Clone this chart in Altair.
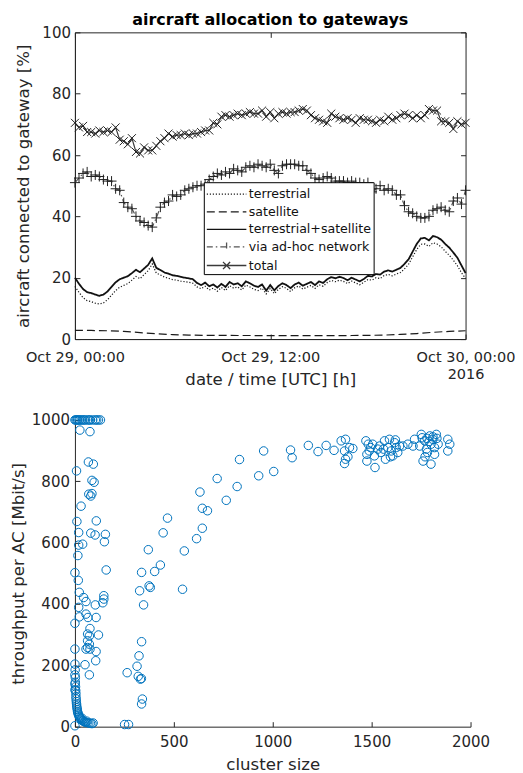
import altair as alt
import pandas as pd

FONT = "DejaVu Sans"
INK = "#262626"

# ---------------- top panel data (values in %, 24 h, Oct 29 2016 UTC) ----------------
series_names = ["terrestrial", "satellite", "terrestrial+satellite", "via ad-hoc network", "total"]

terrestrial = [
    17.2, 15.2, 13.5, 12.5, 12.2, 11.7, 11.4, 11.8, 12.8, 14.3, 15.8, 16.9,
    17.5, 18.1, 19.2, 20.4, 19.7, 21.0, 22.3, 24.5, 21.5, 20.9, 20.2, 19.8,
    19.4, 19.2, 18.9, 18.7, 18.5, 18.2, 17.0, 16.4, 17.2, 16.0, 16.6, 15.6,
    16.8, 15.8, 17.4, 16.6, 17.0, 16.0, 17.6, 17.0, 16.2, 15.8, 16.6, 14.7,
    16.5, 14.8, 16.2, 17.1, 16.5, 15.5, 16.7, 17.3, 16.3, 16.9, 17.5, 16.5,
    17.7, 17.2, 18.4, 19.1, 18.7, 19.2, 18.8, 18.1, 18.9, 18.3, 17.7, 18.5,
    19.4, 19.2, 20.0, 19.7, 20.7, 21.1, 20.6, 21.2, 21.7, 22.9, 24.4, 26.8,
    29.2, 30.9, 31.0, 30.2, 31.4, 31.0, 30.1, 28.6, 27.3, 25.7, 23.9, 21.6,
    19.8,
]
satellite = [
    2.8, 2.8, 2.7, 2.5, 2.1, 1.7, 1.45, 1.3, 1.2, 1.2, 1.15, 1.15, 1.1,
    1.1, 1.1, 1.1, 1.1, 1.15, 1.2, 1.3, 1.5, 1.8, 2.2, 2.5, 2.7,
]
terr_sat = [
    20.0, 18.0, 16.3, 15.3, 15.0, 14.5, 14.1, 14.5, 15.5, 17.0, 18.5, 19.5,
    20.0, 20.5, 21.5, 22.6, 21.8, 23.0, 24.2, 26.3, 23.2, 22.5, 21.7, 21.3,
    20.8, 20.6, 20.3, 20.0, 19.8, 19.5, 18.3, 17.6, 18.4, 17.2, 17.8, 16.8,
    18.0, 17.0, 18.6, 17.8, 18.2, 17.2, 18.8, 18.2, 17.4, 17.0, 17.8, 15.8,
    17.6, 15.9, 17.3, 18.2, 17.6, 16.6, 17.8, 18.4, 17.4, 18.0, 18.6, 17.6,
    18.8, 18.3, 19.5, 20.2, 19.8, 20.3, 19.9, 19.2, 20.0, 19.4, 18.8, 19.6,
    20.6, 20.4, 21.2, 21.0, 22.0, 22.4, 22.0, 22.6, 23.2, 24.5, 26.0, 28.5,
    31.0, 32.8, 33.0, 32.2, 33.6, 33.2, 32.4, 31.0, 29.8, 28.2, 26.5, 24.0,
    21.5,
]
adhoc = [
    51.0, 52.5, 54.0, 54.5, 53.0, 53.5, 53.0, 52.0, 51.5, 51.5, 49.0, 48.5,
    44.5, 43.0, 42.5, 40.0, 38.5, 38.0, 37.0, 36.5, 39.5, 43.0, 44.5, 45.0,
    47.0, 46.5, 47.0, 48.5, 49.0, 49.5, 50.0, 50.0, 50.5, 52.0, 53.0, 54.0,
    53.5, 54.5, 54.0, 55.5, 55.0, 54.5, 56.0, 56.5, 56.0, 57.0, 56.5, 56.0,
    57.0, 55.0, 54.0, 56.5, 57.0, 57.0, 57.0, 56.5, 56.5, 55.0, 54.0, 52.5,
    52.0, 52.5, 53.0, 52.5, 51.5, 51.5, 51.5, 51.0, 51.5, 51.0, 51.0, 50.5,
    51.0, 48.0, 49.0, 50.0, 48.5, 49.0, 48.5, 47.0, 47.0, 43.5, 41.5, 41.0,
    40.0, 39.5, 39.5, 40.0, 42.0, 42.5, 43.0, 42.0, 41.5, 45.0, 46.0, 44.0,
    48.5,
]
total = [
    70.5, 69.0, 69.5, 67.5, 67.5, 67.0, 68.0, 67.5, 68.0, 67.5, 69.0, 65.0,
    64.5, 63.5, 65.5, 61.0, 60.5, 62.5, 61.5, 61.5, 63.0, 64.5, 65.5, 67.0,
    66.0, 66.5, 66.5, 67.0, 66.5, 67.0, 67.0, 67.5, 68.0, 68.0, 70.5, 70.0,
    72.5, 73.0, 72.5, 73.0, 73.5, 73.0, 73.5, 74.0, 73.5, 73.5, 74.5, 72.5,
    74.0, 72.0, 73.5, 74.0, 73.5, 74.0, 74.0, 74.5, 75.0, 74.5, 73.0, 72.0,
    71.5, 71.0, 70.5, 73.5, 72.5, 72.0, 71.5, 72.0, 71.5, 70.5, 72.0, 71.5,
    71.5, 71.0, 70.5, 71.5, 71.0, 72.5, 71.5, 72.0, 73.0, 73.5, 73.0, 72.0,
    73.0, 72.0, 73.0, 75.0, 74.5, 74.5, 71.0, 71.0, 70.5, 68.5, 71.0, 70.0,
    70.5,
]

tick_hours = [0, 12, 24]
tick_labels = ["Oct 29, 00:00", "Oct 29, 12:00", "Oct 30, 00:00"]
year_label = "2016"
y_ticks_top = [0, 20, 40, 60, 80, 100]

# ---------------- bottom panel data ----------------
cluster = [
    0, 5, 10, 14, 20, 25, 32, 39, 46, 53, 64, 72, 78, 90, 103, 110, 119, 129,
    25, 76, 8, 68, 93, 86, 97, 70, 80, 86, 31, 10, 108, 19, 80, 102, 154, 149,
    19, 39, 15, 0, 158, 17, 22, 44, 56, 146, 146, 141, 19, 103, 56, 66, 107, 22,
    0, 76, 64, 73, 119, 64, 73, 64, 76, 56, 107, 105, 0, 51, 0, 73, 0, 0,
    1, 2, 2, 3, 4, 5, 5, 6, 7, 8, 9, 10, 12, 13, 15, 17, 19, 22, 25, 28, 32,
    36, 40, 45, 50, 55, 62, 70, 78, 86, 92, 60, 35, 0, 0,
    264, 251, 271, 314, 320, 331, 336, 324, 337, 341, 337, 327, 337, 347, 375,
    381, 371, 403, 432, 446, 468, 544, 553, 615, 644, 632, 644, 670, 719, 765,
    820, 832, 929, 954, 1005, 1090, 1098,
    1180, 1229, 1270, 1310, 1346, 1368, 1363, 1368, 1363, 1388, 1405, 1471,
    1483, 1476, 1476, 1488, 1505, 1517, 1514, 1531, 1547, 1565, 1570, 1582,
    1590, 1599, 1607, 1616, 1624, 1632, 1641, 1658, 1683, 1709, 1717, 1743,
    1751, 1755, 1760, 1768, 1777, 1782, 1794, 1800, 1800, 1809, 1818, 1818,
    1827, 1836, 1885, 1885, 1895, 1540, 1595, 1620, 1560, 1780, 1790, 1810,
    1830, 1770, 1495, 1380,
]
throughput = [
    1000, 1000, 1000, 1000, 1000, 1000, 1000, 1000, 1000, 1000, 1000, 1000,
    1000, 1000, 1000, 1000, 1000, 1000,
    967, 962, 834, 863, 856, 803, 797, 758, 752, 760, 719, 669, 671, 633, 631,
    625, 627, 603, 592, 595, 558, 502, 511, 477, 438, 421, 408, 427, 416, 404,
    389, 397, 367, 356, 356, 358, 337, 320, 302, 296, 299, 280, 269, 258, 253,
    253, 245, 215, 253, 202, 204, 169, 169, 3,
    185, 160, 145, 130, 118, 108, 98, 90, 82, 75, 68, 62, 56, 50, 45, 41, 37,
    33, 30, 27, 24, 21, 19, 17, 15, 14, 13, 12, 11, 10, 12, 18, 28, 139, 120,
    176, 7, 7, 197, 164, 155, 157, 231, 277, 90, 74, 443, 503, 397, 459, 454,
    577, 506, 527, 632, 680, 448, 573, 613, 647, 765, 712, 704, 809, 738, 783,
    871, 818, 899, 832, 902, 877,
    917, 897, 917, 901, 932, 937, 899, 872, 858, 910, 907, 932, 921, 888, 866,
    899, 921, 845, 883, 905, 894, 932, 872, 910, 937, 899, 883, 926, 910, 894,
    915, 915, 921, 915, 937, 915, 953, 942, 866, 932, 905, 894, 948, 921, 856,
    937, 910, 888, 953, 921, 937, 899, 921, 915, 880, 935, 905, 940, 930, 945,
    940, 880, 910, 880,
]
x_ticks_bottom = [0, 500, 1000, 1500, 2000]
y_ticks_bottom = [0, 200, 400, 600, 800, 1000]

# ---------------- tables ----------------
rows = []
for name, vals in zip(series_names, [terrestrial, satellite, terr_sat, adhoc, total]):
    n = len(vals)
    for i, v in enumerate(vals):
        rows.append({"hour": 24.0 * i / (n - 1), "value": v, "series": name})
ts = pd.DataFrame(rows)
sc = pd.DataFrame({"cluster": cluster, "tp": throughput})

# ---------------- styles ----------------
color_range = ["#1a1a1a", "#1a1a1a", "#111111", "#555555", "#3a3a3a"]
dash_range = [[1.2, 1.8], [8, 4], [1, 0], [6, 3, 1.5, 3], [1, 0]]
legend_shapes = [
    "M-1,0H3.4",
    "M-1,0H3.4",
    "M-1,0H3.4",
    "M-1,0H3.4M1.2,-0.5V0.5",
    "M-1,0H3.4M0.8,-0.4L1.6,0.4M0.8,0.4L1.6,-0.4",
]
PLUS = "M-1,0H1M0,-1V1"
CROSS = "M-1,-1L1,1M-1,1L1,-1"
TICK = 5
X0 = 76  # common left edge of both plot areas (px from page left)

xs = alt.Scale(domain=[0, 24], nice=False)
ys = alt.Scale(domain=[0, 100], nice=False)
color_scale = alt.Scale(type="ordinal", domain=series_names, range=color_range)
dash_scale = alt.Scale(type="ordinal", domain=series_names, range=dash_range)
shape_scale = alt.Scale(type="ordinal", domain=series_names, range=legend_shapes)

label_expr = (
    f"datum.value == {tick_hours[0]} ? '{tick_labels[0]}' : "
    f"datum.value == {tick_hours[1]} ? '{tick_labels[1]}' : "
    f"['{tick_labels[2]}', '{year_label}" + "\u00a0" * 13 + "']"
)


def tick_axis(orient, values):
    # ticks only, shifted inside the plot so they point inward
    return alt.Axis(orient=orient, values=values, labels=False, domain=False,
                    ticks=True, tickSize=TICK, offset=-TICK, grid=False, title=None,
                    minExtent=0, maxExtent=0)


bottom_axis = alt.Axis(
    values=tick_hours, labelExpr=label_expr, labelFlush=False, ticks=False,
    labelFontSize=14.5, labelBaseline="alphabetic", labelPadding=22,
    labelLineHeight=18, grid=False,
    title="date / time [UTC] [h]", titleY=45, titleBaseline="alphabetic",
)
left_axis = alt.Axis(
    values=y_ticks_top, ticks=False, labelPadding=4.5, grid=False,
    title="aircraft connected to gateway [%]", titleX=33 - X0,
)

leg = alt.Legend(
    title=None, orient="none", legendX=205 - X0, legendY=150, fillColor="white",
    strokeColor="black", padding=2, rowPadding=0.6, labelOffset=23,
    symbolSize=324, symbolStrokeWidth=1.3, labelFontSize=12.6, labelFont=FONT,
    labelColor="#111111",
)

lines = alt.Chart(ts).mark_line().encode(
    x=alt.X("hour:Q", scale=xs, axis=bottom_axis),
    y=alt.Y("value:Q", scale=ys, axis=left_axis),
    color=alt.Color("series:N", scale=color_scale),
    strokeDash=alt.StrokeDash("series:N", scale=dash_scale),
    strokeWidth=alt.condition(
        alt.datum.series == "terrestrial+satellite", alt.value(1.8), alt.value(1.2)
    ),
)

adhoc_pts = alt.Chart(ts).transform_filter(
    alt.datum.series == "via ad-hoc network"
).mark_point(shape=PLUS, size=100, filled=False, color="#222222", strokeWidth=1, opacity=1).encode(
    x=alt.X("hour:Q", scale=xs, axis=tick_axis("bottom", tick_hours)),
    y=alt.Y("value:Q", scale=ys, axis=tick_axis("left", y_ticks_top)),
)

total_pts = alt.Chart(ts).transform_filter(
    alt.datum.series == "total"
).mark_point(shape=CROSS, size=64, filled=False, color="#222222", strokeWidth=1, opacity=1).encode(
    x=alt.X("hour:Q", scale=xs, axis=tick_axis("top", tick_hours)),
    y=alt.Y("value:Q", scale=ys, axis=tick_axis("right", y_ticks_top)),
)

legend_layer = alt.Chart(ts).transform_filter("false").mark_point(
    filled=False, opacity=1, size=324, strokeWidth=1.3
).encode(
    x=alt.X("hour:Q", scale=xs, axis=None),
    y=alt.Y("value:Q", scale=ys, axis=None),
    color=alt.Color("series:N", scale=color_scale, legend=leg),
    shape=alt.Shape("series:N", scale=shape_scale, legend=leg),
    strokeDash=alt.StrokeDash("series:N", scale=dash_scale, legend=leg),
)

top = alt.layer(lines, adhoc_pts, total_pts, legend_layer).resolve_axis(
    x="independent", y="independent"
).properties(
    width=467 - X0, height=307,
    view=alt.ViewBackground(stroke=INK, strokeWidth=1),
    title=alt.TitleParams(
        "aircraft allocation to gateways", fontSize=16, fontWeight="bold",
        font=FONT, baseline="alphabetic", offset=-16, color="#000000",
        frame="group",
    ),
)

bx = alt.Scale(domain=[0, 2000], nice=False)
by = alt.Scale(domain=[0, 1000], nice=False)

scatter = alt.Chart(sc).mark_point(
    filled=False, size=72, color="#0072BD", strokeWidth=1, opacity=1
).encode(
    x=alt.X("cluster:Q", scale=bx,
            axis=alt.Axis(values=x_ticks_bottom, format="d", title="cluster size",
                          titleY=43, titleBaseline="alphabetic", labelFlush=False,
                          labelBaseline="alphabetic", ticks=False, labelPadding=20,
                          grid=False)),
    y=alt.Y("tp:Q", scale=by,
            axis=alt.Axis(values=y_ticks_bottom, format="d",
                          title="throughput per AC [Mbit/s]", titleX=28 - X0,
                          ticks=False, labelPadding=5.5, grid=False)),
)
scatter_ticks = alt.Chart(sc).transform_filter("false").mark_point().encode(
    x=alt.X("cluster:Q", scale=bx, axis=tick_axis("bottom", x_ticks_bottom)),
    y=alt.Y("tp:Q", scale=by, axis=tick_axis("left", y_ticks_bottom)),
)
bottom = alt.layer(scatter, scatter_ticks).resolve_axis(
    x="independent", y="independent"
).properties(width=472 - X0, height=307)

chart = alt.vconcat(top, bottom, spacing=23).properties(
    padding={"left": 2, "top": 3, "right": -1.5, "bottom": -3}
).configure_axis(
    labelFont=FONT, labelFontSize=15, labelColor=INK,
    titleFont=FONT, titleFontSize=16.6, titleFontWeight="normal", titleColor=INK,
    domainColor=INK, tickColor=INK, domainWidth=1, tickWidth=1,
).configure_view(stroke="transparent")

chart.save("out.html", embed_options={"renderer": "svg", "actions": False})
